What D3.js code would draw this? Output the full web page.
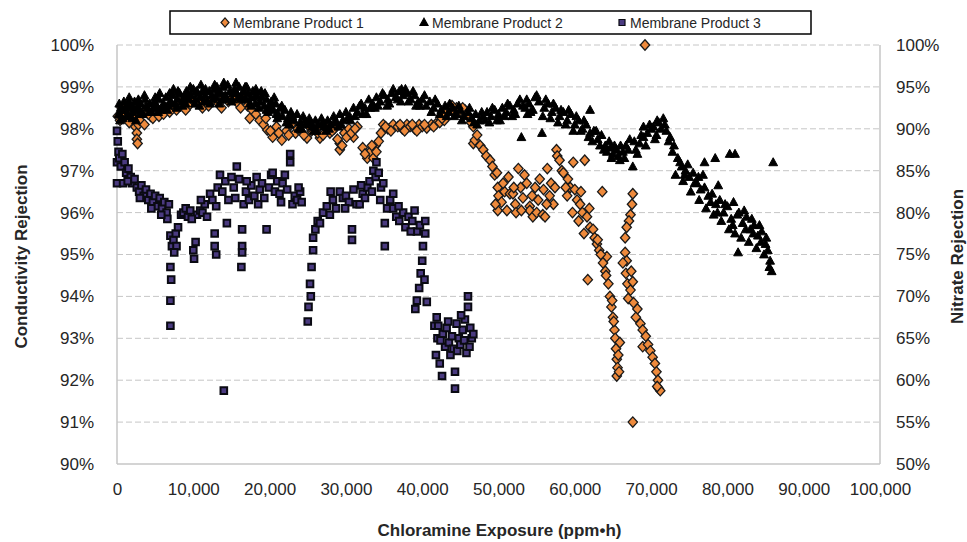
<!DOCTYPE html>
<html>
<head>
<meta charset="utf-8">
<script src="https://cdn.jsdelivr.net/npm/d3@7"></script>
<style>
  body { margin: 0; background: #fff; }
  text { font-family: "Liberation Sans", Arial, sans-serif; fill: #262626; }
</style>
</head>
<body>
<script>
// x values are in thousand ppm·h, y values in % conductivity rejection
var seriesNames = ["Membrane Product 1", "Membrane Product 2", "Membrane Product 3"];
var xTicks = [0, 10, 20, 30, 40, 50, 60, 70, 80, 90, 100];
var leftTicks = [90, 91, 92, 93, 94, 95, 96, 97, 98, 99, 100];
var rightTicks = [50, 55, 60, 65, 70, 75, 80, 85, 90, 95, 100];

var product1 = [[0.1,98.3],[0.4,98.2],[0.8,98.4],[1.3,98.25],[1.8,98.45],[2.4,98.05],[2.6,97.9],[2.6,97.75],[2.7,97.65],[2.8,98.1],
  [3.3,98.35],[3.9,98.45],[4.4,98.3],[4.7,98.25],[5.2,98.5],[5.8,98.4],[6.5,98.5],[7.2,98.55],[7.8,98.45],[8.3,98.65],
  [8.7,98.7],[9.4,98.55],[10.1,98.65],[10.9,98.6],[11.6,98.7],[12.6,98.7],[13.3,98.6],[14.0,98.75],[14.6,98.65],[15.2,98.75],
  [15.9,98.6],[16.5,98.8],[17.1,98.55],[17.7,98.45],[18.2,98.35],[18.7,98.2],[19.2,98.1],[19.7,97.97],[20.4,97.8],[20.9,98.05],
  [21.6,97.73],[22.2,97.95],[22.8,98.1],[23.4,97.9],[24.0,98.05],[24.9,97.78],[25.5,97.95],[26.1,98.0],[26.6,97.78],[27.3,98.05],
  [27.9,97.9],[28.5,98.0],[29.2,97.5],[29.2,97.65],[29.8,97.9],[30.4,98.0],[31.0,97.8],[31.5,98.05],[32.2,97.55],[32.8,97.3],
  [33.2,97.45],[33.6,97.3],[33.9,97.6],[34.3,97.7],[34.9,98.1],[35.5,98.0],[36.2,98.1],[36.8,98.05],[37.4,98.0],[38.0,98.1],
  [38.4,98.05],[39.0,98.0],[39.6,98.1],[40.0,98.05],[40.6,98.02],[41.2,98.1],[41.8,98.12],[42.3,98.15],[42.9,98.2],[43.3,98.4],
  [43.6,98.5],[44.0,98.45],[44.5,98.5],[45.0,98.4],[45.6,98.45],[46.0,98.3],[46.4,98.15],[46.7,98.05],[46.7,97.65],[46.9,97.73],
  [47.2,97.85],[47.6,97.6],[48.0,97.5],[48.4,97.35],[48.9,97.25],[49.2,97.1],[49.5,96.9],[49.8,96.95],[49.9,96.6],[50.0,96.4],
  [49.9,96.05],[50.4,96.25],[50.8,96.5],[51.1,96.05],[51.5,96.45],[51.9,96.45],[52.2,96.2],[52.3,96.0],[52.6,97.05],[52.9,96.6],
  [53.2,96.35],[53.7,96.7],[54.1,96.15],[54.1,96.05],[54.5,95.9],[54.8,96.6],[55.0,96.0],[55.4,96.8],[55.8,95.95],[56.1,95.9],
  [56.4,97.05],[56.7,96.4],[56.9,96.7],[57.2,96.2],[57.6,97.5],[57.7,97.35],[58.0,97.25],[58.3,97.0],[58.5,96.95],[59.1,96.8],
  [59.4,96.6],[59.8,97.2],[60.0,96.55],[60.3,96.3],[60.7,96.2],[61.0,96.0],[61.3,97.25],[61.6,95.9],[62.0,95.65],[62.4,95.6],
  [62.6,95.4],[62.9,95.25],[63.2,95.1],[63.6,96.5],[63.7,94.8],[64.0,94.6],[64.2,94.95],[64.4,94.3],[64.6,94.0],[64.8,93.75],
  [65.0,93.5],[65.2,93.2],[65.3,93.0],[65.4,92.75],[65.5,92.5],[65.5,92.1],[65.6,92.3],[61.7,94.4],
  [63.0,95.35],[63.4,95.0],[64.1,94.5],[64.9,93.9],[65.1,93.4],[65.7,92.6],[65.8,92.2],[65.9,92.9],
  [59.0,96.4],[59.7,96.0],[60.5,95.8],[61.2,95.5],[60.8,96.5],[61.9,96.1],
  [50.6,96.7],[51.3,96.85],[52.0,96.6],[53.4,96.9],[54.4,96.4],[55.2,96.3],[55.9,96.55],[56.3,96.2],[53.0,96.05],[57.4,96.6],[58.8,96.6],[49.6,96.2],
  [67.6,96.45],[67.5,96.2],[67.3,95.95],[67.1,95.8],[66.8,95.65],[66.6,95.4],[66.6,95.05],[66.8,94.85],[66.3,94.8],[66.7,94.55],
  [67.4,94.6],[66.9,94.3],[67.3,94.15],[67.6,94.35],[67.0,93.95],[67.7,93.85],[68.2,93.7],[68.0,93.5],[68.6,93.35],[68.9,93.2],
  [68.9,92.8],[69.3,93.05],[69.6,92.85],[69.9,92.7],[70.2,92.55],[70.5,92.4],[70.7,92.2],[70.9,92.0],[71.0,91.8],[71.2,91.75],
  [70.8,91.85],[67.6,91.0],[69.2,100.0],
  [0.6,98.5],[1.0,98.3],[1.6,98.15],[2.2,98.35],[3.0,98.2],[3.6,98.1],[4.1,98.35],[5.5,98.3],[6.1,98.35],[6.9,98.4],
  [9.0,98.45],[11.2,98.5],[12.0,98.55],[13.7,98.5],[16.2,98.5],[17.4,98.25],[19.5,98.25],[20.1,97.95],[21.2,97.9],[22.5,97.85],
  [23.7,98.0],[24.5,97.85],[25.2,98.05],[26.3,97.9],[27.0,97.85],[28.2,97.95],[28.9,97.75],[29.5,97.6],[30.1,97.8],[30.7,97.9],
  [31.2,98.0],[32.5,97.4],[33.4,97.6],[34.0,97.45],[34.6,97.9],[35.2,98.05],[35.9,97.95],[37.1,98.1],[37.7,97.95],[38.7,98.1],
  [39.3,97.95],[40.3,98.1],[41.5,98.05],[42.6,98.25],[43.0,98.35],[43.9,98.55],[44.8,98.4],[45.3,98.5],[45.9,98.35]];

var product2 = [[0.2,98.35],[0.3,98.6],[0.5,98.5],[0.7,98.25],[0.9,98.65],[1.1,98.45],[1.3,98.55],[1.5,98.3],[1.7,98.6],[1.9,98.5],
  [2.1,98.4],[2.3,98.65],[2.5,98.2],[2.7,98.55],[2.9,98.45],[3.1,98.6],[3.4,98.35],[3.7,98.7],[4.0,98.5],[4.3,98.6],
  [4.6,98.4],[4.9,98.65],[5.2,98.55],[5.5,98.7],[5.8,98.45],[6.1,98.6],[6.4,98.75],[6.7,98.55],[7.0,98.65],[7.3,98.8],
  [7.6,98.6],[7.9,98.7],[8.2,98.85],[8.5,98.65],[8.8,98.75],[9.1,98.9],[9.4,98.7],[9.7,98.8],[10.0,98.95],[10.3,98.7],
  [10.6,98.85],[10.9,98.75],[11.2,98.9],[11.5,98.8],[11.8,98.65],[12.1,98.9],[12.4,98.8],[12.7,98.95],[13.0,98.75],[13.3,98.9],
  [13.6,98.85],[13.9,99.0],[14.2,98.8],[14.5,99.05],[14.8,98.9],[15.1,98.7],[15.4,98.95],[15.7,98.85],[16.0,99.0],[16.3,98.8],
  [16.6,98.9],[16.9,98.7],[17.2,98.85],[17.5,98.75],[17.8,98.9],[18.1,98.6],[18.4,98.8],[18.7,98.65],[19.0,98.75],[19.3,98.55],
  [19.6,98.7],[19.9,98.5],[20.2,98.65],[20.5,98.45],[20.8,98.6],[21.1,98.35],[21.4,98.5],[21.7,98.3],[22.0,98.45],[22.4,98.25],
  [22.8,98.4],[23.2,98.2],[23.6,98.35],[24.0,98.15],[24.4,98.3],[24.8,98.1],[25.2,98.25],[25.6,98.05],[26.0,98.2],[26.4,98.1],
  [26.8,98.25],[27.2,98.05],[27.6,98.2],[28.0,98.1],[28.4,98.3],[28.8,98.15],[29.2,98.35],[29.6,98.2],[30.0,98.4],[30.5,98.3],
  [31.0,98.5],[31.5,98.4],[32.0,98.6],[32.5,98.5],[33.0,98.7],[33.5,98.6],[34.0,98.75],[34.5,98.65],[35.0,98.8],[35.5,98.7],
  [36.0,98.85],[36.5,98.75],[37.0,98.9],[37.5,98.8],[38.0,98.85],[38.5,98.7],[39.0,98.8],[39.5,98.65],[40.0,98.7],[40.5,98.55],
  [41.0,98.65],[41.5,98.5],[42.0,98.6],[42.5,98.45],[43.0,98.55],[43.5,98.4],[44.0,98.5],[44.5,98.35],[45.0,98.45],[45.5,98.3],
  [46.0,98.4],[46.5,98.25],[47.0,98.35],[47.5,98.2],[48.0,98.3],[48.5,98.4],[49.0,98.3],[49.5,98.45],[50.0,98.35],[50.5,98.5],
  [51.0,98.4],[51.5,98.55],[52.0,98.45],[52.5,98.6],[52.8,98.7],[53.0,97.8],[53.5,98.5],[54.0,98.6],[54.5,98.45],[55.0,98.8],
  [55.3,98.65],[55.7,97.9],[56.0,98.5],[56.5,98.6],[57.0,98.4],[57.5,98.5],[58.0,98.3],[58.5,98.4],[59.0,98.2],[59.5,98.35],
  [60.0,98.1],[60.5,98.2],[61.0,98.0],[61.5,98.1],[62.0,98.45],[62.0,97.9],[62.5,97.95],[63.0,97.75],[63.5,97.85],[64.0,97.6],
  [64.5,97.7],[65.0,97.4],[65.5,97.5],[65.9,97.25],[66.3,97.45],[66.7,97.6],[67.2,97.75],[67.6,97.1],[68.0,97.5],[68.5,97.65],
  [69.0,97.8],[69.5,97.9],[70.0,98.0],[70.3,98.05],[70.7,97.85],[71.0,98.15],[71.3,98.0],[71.6,98.25],[72.0,97.95],[72.5,97.8],
  [73.0,97.6],[73.5,97.3],[74.0,97.1],[74.5,97.0],[75.0,96.85],[75.5,96.95],[76.0,96.7],[76.5,96.55],[77.0,96.6],[77.0,97.2],
  [77.5,96.4],[78.0,96.45],[78.4,97.3],[78.5,96.2],[79.0,96.3],[79.5,96.0],[80.0,96.15],[80.3,97.4],[80.5,95.85],[81.0,97.4],
  [81.0,95.5],[81.5,96.0],[81.4,95.05],[82.0,95.75],[82.5,95.9],[83.0,95.6],[83.5,95.7],[84.0,95.45],[84.5,95.55],[85.0,95.25],
  [85.3,95.1],[85.6,94.85],[85.8,94.6],[86.0,97.2],
  [73.2,96.9],[74.2,96.75],[75.2,96.5],[76.3,96.3],[77.2,96.1],[78.2,95.95],[79.2,95.8],[80.2,95.6],[81.8,95.4],[82.8,95.3],
  [83.8,95.15],[84.8,95.0],[74.8,97.15],[76.8,96.9],[78.8,96.65],[80.8,96.25],[82.2,96.05],[83.2,95.85],[84.2,95.7],
  [0.4,98.2],[1.2,98.3],[2.0,98.25],[3.0,98.35],[4.2,98.4],[5.4,98.4],[6.6,98.45],[7.8,98.5],[9.0,98.6],[10.2,98.6],
  [11.4,98.65],[12.6,98.7],[13.8,98.7],[15.0,98.65],[16.2,98.7],[17.4,98.6],[18.6,98.5],[19.8,98.4],[21.0,98.25],[22.6,98.1],
  [24.2,98.0],[25.8,97.95],[27.4,97.95],[29.0,98.05],[30.6,98.2],[32.2,98.35],[33.8,98.5],[35.4,98.55],[37.2,98.65],[39.2,98.55],
  [41.2,98.4],[43.2,98.3],[45.2,98.2],[47.2,98.1],[48.8,98.15],[50.2,98.2],[51.8,98.3],[53.8,98.35],[55.8,98.3],[57.8,98.15],
  [59.8,97.95],[61.8,97.8],[63.8,97.5],[64.8,97.3],
  [1.6,98.75],[3.6,98.8],[5.6,98.85],[7.4,98.95],[9.6,99.0],[11.0,99.05],[12.8,99.05],[14.0,99.1],[15.6,99.1],[17.0,99.0],
  [18.2,98.95],[19.4,98.85],[20.6,98.75],[36.2,98.95],[37.8,98.95],[54.8,98.75],[69.0,98.05],[70.8,98.2],
  [0.6,98.45],[1.4,98.6],[2.2,98.5],[2.8,98.7],[3.8,98.55],[4.8,98.5],[5.0,98.75],[6.0,98.5],[6.9,98.85],[7.2,98.6],
  [8.0,98.9],[8.6,98.55],[9.2,98.75],[10.4,98.9],[10.8,98.55],[11.6,98.95],[12.2,98.6],[13.1,99.0],[13.4,98.6],[14.4,98.7],
  [15.2,98.85],[15.9,98.75],[16.8,99.0],[17.6,98.55],[18.0,98.75],[18.9,98.9],[19.6,98.45],[20.1,98.55],[20.9,98.35],[21.6,98.55],
  [22.2,98.15],[23.0,98.3],[23.8,98.0],[24.6,98.2],[25.4,98.15],[26.2,97.95],[27.0,98.15],[27.8,98.0],[28.6,98.2],[29.4,98.1],
  [30.2,98.25],[31.2,98.3],[31.8,98.55],[32.7,98.35],[33.2,98.5],[34.2,98.55],[34.8,98.85],[35.7,98.6],[36.8,98.7],[37.3,98.95],
  [38.2,98.65],[38.8,98.9],[39.7,98.55],[40.3,98.8],[41.7,98.7],[42.3,98.35],[43.6,98.6],[44.2,98.3],[44.8,98.55],[46.2,98.5],
  [46.8,98.15],[47.8,98.4],[48.2,98.2],[49.2,98.5],[49.8,98.2],[50.8,98.3],[51.2,98.6],[52.2,98.35],[53.2,98.55],[53.7,98.7],
  [54.2,98.4],[56.2,98.7],[56.8,98.25],[57.2,98.6],[58.2,98.45],[58.8,98.1],[59.2,98.45],[60.2,98.3],[60.8,97.95],[61.2,98.2],
  [62.3,97.7],[62.8,97.95],[63.3,97.6],[64.2,97.45],[64.7,97.55],[65.2,97.6],[65.7,97.35],[66.0,97.6],[66.5,97.3],[67.0,97.5],
  [67.8,97.7],[68.2,97.4],[68.7,97.85],[69.3,97.6],[69.8,98.1],[70.5,97.75],[71.8,98.1],[72.3,97.7],[72.8,97.45],[73.8,97.2],
  [74.4,96.9],[75.7,96.7],[76.2,96.85],[77.8,96.25],[78.7,96.0],[79.7,96.2],[80.7,95.7],[81.3,95.95],[82.4,95.6],[83.4,95.5],
  [84.4,95.3],[85.1,95.4],[85.5,94.7]];

var product3 = [[0.0,97.95],[0.1,97.7],[0.2,97.45],[0.0,97.2],[0.3,97.3],[0.0,96.7],[0.8,96.7],[0.5,97.1],[0.7,97.4],[1.0,97.2],
  [1.2,96.95],[1.5,97.05],[1.8,96.85],[2.0,96.7],[2.3,96.8],[2.6,96.6],[2.9,96.5],[3.2,96.65],[3.5,96.4],[3.8,96.55],
  [4.1,96.3],[4.4,96.45],[4.7,96.25],[5.0,96.4],[5.3,96.15],[5.6,96.35],[5.9,96.1],[6.2,96.25],[6.5,96.0],[6.8,96.2],
  [6.6,95.85],[7.0,95.45],[7.2,95.2],[7.0,94.7],[7.1,94.4],[7.0,93.9],[7.0,93.3],[7.4,95.35],[7.7,95.5],[7.8,95.2],
  [7.5,95.05],[8.0,95.65],[8.4,95.95],[8.7,96.0],[9.0,96.1],[9.3,95.9],[9.6,96.05],[10.0,95.1],[10.1,94.9],[10.3,95.3],
  [10.5,95.95],[10.9,96.05],[11.2,96.0],[11.5,96.2],[11.8,95.9],[12.2,96.45],[12.5,96.3],[12.8,95.5],[12.8,95.2],[13.0,95.0],
  [13.2,96.6],[13.5,96.9],[13.8,96.5],[14.0,91.75],[14.2,96.75],[14.4,95.75],[14.6,96.3],[15.0,96.85],[15.3,96.6],[15.7,97.1],
  [16.0,96.8],[16.4,95.6],[16.4,95.2],[16.4,95.05],[16.3,94.7],[16.6,96.2],[16.9,96.5],[17.3,96.3],[17.6,96.65],[18.0,96.4],
  [18.3,96.85],[18.7,96.55],[19.0,96.7],[19.3,96.35],[19.6,95.6],[19.9,96.6],[20.2,96.9],[20.4,96.95],[20.7,96.5],[21.0,96.75],
  [21.3,96.45],[21.7,96.7],[22.0,96.9],[22.3,96.55],[22.7,97.2],[22.7,97.4],[23.0,96.2],[23.3,96.4],[23.6,96.3],[24.0,96.5],
  [24.2,96.25],[25.7,95.4],[25.7,95.1],[25.5,94.7],[25.3,94.3],[25.1,93.75],[25.0,93.4],[25.4,94.0],[26.0,95.6],[26.3,95.8],
  [26.6,95.75],[27.0,96.0],[27.5,96.15],[27.9,95.95],[28.3,96.3],[28.7,96.1],[29.2,96.5],[29.6,96.35],[30.0,96.4],[30.4,96.25],
  [30.8,95.35],[30.8,95.6],[31.0,96.55],[31.4,96.2],[31.8,96.2],[32.2,96.45],[32.5,96.35],[32.8,96.6],[33.1,96.75],[33.4,96.5],
  [33.6,97.0],[33.9,96.85],[34.0,97.2],[34.3,96.95],[34.6,96.6],[34.9,96.7],[35.1,95.75],[35.1,95.2],[35.4,96.1],[35.8,96.3],
  [36.2,96.45],[36.2,96.1],[36.6,95.9],[37.0,95.8],[37.5,96.0],[37.8,95.65],[38.2,95.9],[38.7,95.8],[39.0,96.05],[39.3,95.55],
  [39.7,95.7],[40.4,95.8],[40.4,95.5],[40.1,95.2],[40.0,94.85],[39.8,94.55],[39.6,94.2],[39.3,93.9],[39.1,93.7],[40.6,93.87],
  [40.3,94.4],[41.9,93.5],[41.6,93.3],[42.0,93.0],[42.3,92.4],[42.6,92.1],[42.7,93.1],[43.0,92.8],[43.2,93.25],[43.5,92.9],
  [43.7,92.6],[43.9,93.05],[44.1,92.75],[44.3,92.2],[44.3,91.8],[44.6,92.7],[44.8,93.0],[45.0,92.85],[45.3,93.2],[45.5,92.95],
  [45.8,92.65],[46.0,94.0],[46.0,93.75],[46.3,93.25],[46.5,93.0],[46.7,93.1],[46.2,92.8],[42.4,92.95],[43.4,93.4],[44.5,93.35],
  [45.6,93.45],[41.8,92.6],
  [1.4,96.75],[3.0,96.35],[4.5,96.1],[5.8,95.95],[9.8,95.85],[11.0,96.3],[13.0,96.15],[15.5,96.35],[17.0,96.75],[18.5,96.2],
  [21.5,96.25],[23.8,96.6],[28.0,96.5],[29.9,96.1],[32.0,96.65],[34.5,96.3],[36.9,96.15],[38.5,95.55],[42.1,93.3],[45.1,93.55]];

var W = 967, H = 542;
var margin = {left: 117, right: 87, top: 45, bottom: 78};

var svg = d3.select("body").append("svg")
  .attr("width", W)
  .attr("height", H);

var x = d3.scaleLinear().domain([0, 100]).range([margin.left, W - margin.right]);
var y = d3.scaleLinear().domain([90, 100]).range([H - margin.bottom, margin.top]);
var y2 = d3.scaleLinear().domain([50, 100]).range([H - margin.bottom, margin.top]);

// dashed gridlines
svg.append("g").selectAll("line")
  .data(leftTicks.slice(1))
  .enter().append("line")
  .attr("x1", x(0)).attr("x2", x(100))
  .attr("y1", function(d) { return y(d); })
  .attr("y2", function(d) { return y(d); })
  .attr("stroke", "#c6c6c6")
  .attr("stroke-width", 1)
  .attr("stroke-dasharray", "6,3");

// axis frame lines
svg.append("line").attr("x1", x(0)).attr("x2", x(100)).attr("y1", y(90)).attr("y2", y(90))
  .attr("stroke", "#c6c6c6").attr("stroke-width", 1.5);
svg.append("line").attr("x1", x(0)).attr("x2", x(0)).attr("y1", y(90)).attr("y2", y(100))
  .attr("stroke", "#c6c6c6").attr("stroke-width", 1.5);
svg.append("line").attr("x1", x(100)).attr("x2", x(100)).attr("y1", y(90)).attr("y2", y(100))
  .attr("stroke", "#c6c6c6").attr("stroke-width", 1.5);

var fmtK = d3.format(",");

var xAxis = svg.append("g")
  .attr("transform", "translate(0," + (y(90) + 16) + ")")
  .call(d3.axisBottom(x).tickValues(xTicks).tickSize(0)
    .tickFormat(function(d) { return fmtK(d * 1000); }));
xAxis.select(".domain").remove();
xAxis.selectAll("text").style("font-size", "17px").attr("fill", "#262626");

var yAxis = svg.append("g")
  .attr("transform", "translate(" + (x(0) - 20) + ",0)")
  .call(d3.axisLeft(y).tickValues(leftTicks).tickSize(0)
    .tickFormat(function(d) { return d + "%"; }));
yAxis.select(".domain").remove();
yAxis.selectAll("text").style("font-size", "17px").attr("fill", "#262626");

var yAxis2 = svg.append("g")
  .attr("transform", "translate(" + (x(100) + 13) + ",0)")
  .call(d3.axisRight(y2).tickValues(rightTicks).tickSize(0)
    .tickFormat(function(d) { return d + "%"; }));
yAxis2.select(".domain").remove();
yAxis2.selectAll("text").style("font-size", "17px").attr("fill", "#262626");

// axis titles
svg.append("text")
  .attr("x", (x(0) + x(100)) / 2 + 1).attr("y", 536)
  .attr("text-anchor", "middle")
  .style("font-size", "17px").style("font-weight", "bold")
  .text("Chloramine Exposure (ppm•h)");
svg.append("text")
  .attr("transform", "translate(27," + (y(95) + 2) + ") rotate(-90)")
  .attr("text-anchor", "middle")
  .style("font-size", "17px").style("font-weight", "bold")
  .text("Conductivity Rejection");
svg.append("text")
  .attr("transform", "translate(963," + (y(95) + 2) + ") rotate(-90)")
  .attr("text-anchor", "middle")
  .style("font-size", "17px").style("font-weight", "bold")
  .text("Nitrate Rejection");

// marker shapes
var diamond = "M0,-5.2L4.7,0L0,5.2L-4.7,0Z";
var triangle = "M0,-4.6L4.4,3.4L-4.4,3.4Z";
var square = "M-3.3,-3.3H3.3V3.3H-3.3Z";

var plot = svg.append("g");

plot.append("g").selectAll("path")
  .data(product1)
  .enter().append("path")
  .attr("d", diamond)
  .attr("transform", function(d) { return "translate(" + x(d[0]) + "," + y(d[1]) + ")"; })
  .attr("fill", "#ee8a3c")
  .attr("stroke", "#1a1a1a")
  .attr("stroke-width", 1.3);

plot.append("g").selectAll("path")
  .data(product2)
  .enter().append("path")
  .attr("d", triangle)
  .attr("transform", function(d) { return "translate(" + x(d[0]) + "," + y(d[1]) + ")"; })
  .attr("fill", "#000")
  .attr("stroke", "#000")
  .attr("stroke-width", 1);

plot.append("g").selectAll("path")
  .data(product3)
  .enter().append("path")
  .attr("d", square)
  .attr("transform", function(d) { return "translate(" + x(d[0]) + "," + y(d[1]) + ")"; })
  .attr("fill", "#4a3a80")
  .attr("stroke", "#0a0a12")
  .attr("stroke-width", 2);

// legend
var legend = svg.append("g");
legend.append("rect")
  .attr("x", 170).attr("y", 11).attr("width", 641).attr("height", 23)
  .attr("fill", "#fff").attr("stroke", "#000").attr("stroke-width", 1.5);

var legendItems = [
  {name: seriesNames[0], shape: "M0,-4.6L4,0L0,4.6L-4,0Z", fill: "#ee8a3c", stroke: "#1a1a1a", x: 225},
  {name: seriesNames[1], shape: "M0,-4.2L4,3L-4,3Z", fill: "#000", stroke: "#000", x: 424},
  {name: seriesNames[2], shape: "M-3,-3H3V3H-3Z", fill: "#4a3a80", stroke: "#0a0a12", x: 622}
];
var li = legend.selectAll("g.item")
  .data(legendItems)
  .enter().append("g")
  .attr("class", "item")
  .attr("transform", function(d) { return "translate(" + d.x + ",22.5)"; });
li.append("path")
  .attr("d", function(d) { return d.shape; })
  .attr("fill", function(d) { return d.fill; })
  .attr("stroke", function(d) { return d.stroke; })
  .attr("stroke-width", 1.2);
li.append("text")
  .attr("x", 8).attr("y", 5)
  .style("font-size", "14px")
  .text(function(d) { return d.name; });
</script>
</body>
</html>
